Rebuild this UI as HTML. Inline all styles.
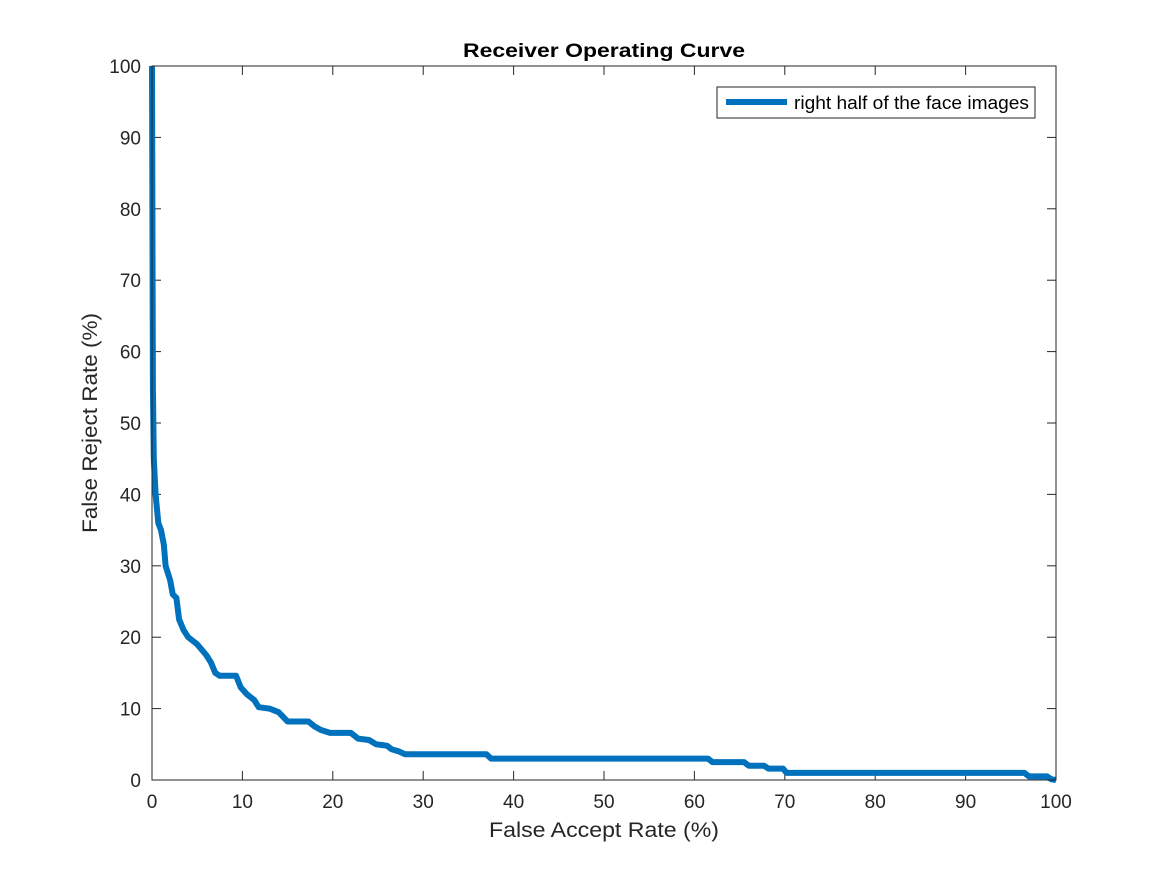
<!DOCTYPE html>
<html><head><meta charset="utf-8"><style>
html,body{margin:0;padding:0;background:#fff;}
svg{display:block;font-family:"Liberation Sans",Arial,sans-serif;}
</style></head><body>
<svg id="chart" width="1167" height="875" viewBox="0 0 1167 875">
<rect x="0" y="0" width="1167" height="875" fill="#fff"/>
<g id="ticks"></g>
<path id="curve" fill="none" stroke="#0072BD" stroke-width="6" stroke-linejoin="round"/>
<rect x="152" y="66" width="904" height="714" fill="none" stroke="#262626" stroke-width="1"/>
<text x="463" y="57" textLength="282" lengthAdjust="spacingAndGlyphs" font-size="19" font-weight="bold" fill="#000">Receiver Operating Curve</text>
<text x="489" y="837" textLength="230" lengthAdjust="spacingAndGlyphs" font-size="21" fill="#262626">False Accept Rate (%)</text>
<text transform="translate(97,533) rotate(-90)" textLength="220" lengthAdjust="spacingAndGlyphs" font-size="21" fill="#262626">False Reject Rate (%)</text>
<g>
<rect x="717" y="87" width="318" height="31" fill="#fff" stroke="#262626" stroke-width="1"/>
<line x1="726" y1="102" x2="787" y2="102" stroke="#0072BD" stroke-width="6"/>
<text x="794" y="109" textLength="235" lengthAdjust="spacingAndGlyphs" font-size="18" fill="#000">right half of the face images</text>
</g>
</svg>
<script>
const farValues = [0,0.1,0.2,0.4,0.7,1,1.3,1.5,2,2.3,2.7,3,3.5,4,5,6,6.5,7,7.5,9.3,9.8,10.5,11.3,11.8,13,14,15,17.3,18,18.7,19.7,22,22.8,24,24.8,26,26.5,27.3,28,37,37.5,61.5,62,65.5,66,67.7,68.2,69.8,70.2,96.5,97,99,99.5,100];
const frrValues = [100,55,45,40,36,35,33,30,28,26,25.5,22.5,21,20,19,17.5,16.5,15,14.6,14.6,13,12,11.2,10.2,10,9.5,8.2,8.2,7.5,7,6.6,6.6,5.8,5.6,5,4.8,4.3,4,3.6,3.6,3,3,2.5,2.5,2,2,1.6,1.6,1,1,0.5,0.5,0.1,0];
const xTickLabels = [0,10,20,30,40,50,60,70,80,90,100];
const yTickLabels = [0,10,20,30,40,50,60,70,80,90,100];
const X0=152,X1=1056,Y0=780,Y1=66;
const sx=v=>X0+(v-0)/(100-0)*(X1-X0);
const sy=v=>Y0-(v-0)/(100-0)*(Y0-Y1);
const NS="http://www.w3.org/2000/svg";
const g=document.getElementById('ticks');
function mk(tag,attrs){const e=document.createElementNS(NS,tag);for(const k in attrs)e.setAttribute(k,attrs[k]);return e;}
xTickLabels.forEach(v=>{
  const x=sx(v);
  [[Y0,Y0-9],[Y1,Y1+9]].forEach(p=>{const l=mk('line',{x1:x,x2:x,y1:p[0],y2:p[1],stroke:'#262626','stroke-width':1});
  
  
  g.appendChild(l);});
  const t=mk('text',{x:x,y:808,'text-anchor':'middle','font-size':19,fill:'#262626'});
  
  
  t.textContent=v;g.appendChild(t);
});
yTickLabels.forEach(v=>{
  const y=sy(v);
  [[X0,X0+9],[X1,X1-9]].forEach(p=>{const l=mk('line',{x1:p[0],x2:p[1],y1:y,y2:y,stroke:'#262626','stroke-width':1});
  
  
  g.appendChild(l);});
  const t=mk('text',{x:141,y:y+7,'text-anchor':'end','font-size':19,fill:'#262626'});
  
  
  t.textContent=v;g.appendChild(t);
});
document.getElementById('curve').setAttribute('d',farValues.map((v,i)=>(i?'L':'M')+sx(v).toFixed(1)+','+sy(frrValues[i]).toFixed(1)).join(' '));
</script>
</body></html>
